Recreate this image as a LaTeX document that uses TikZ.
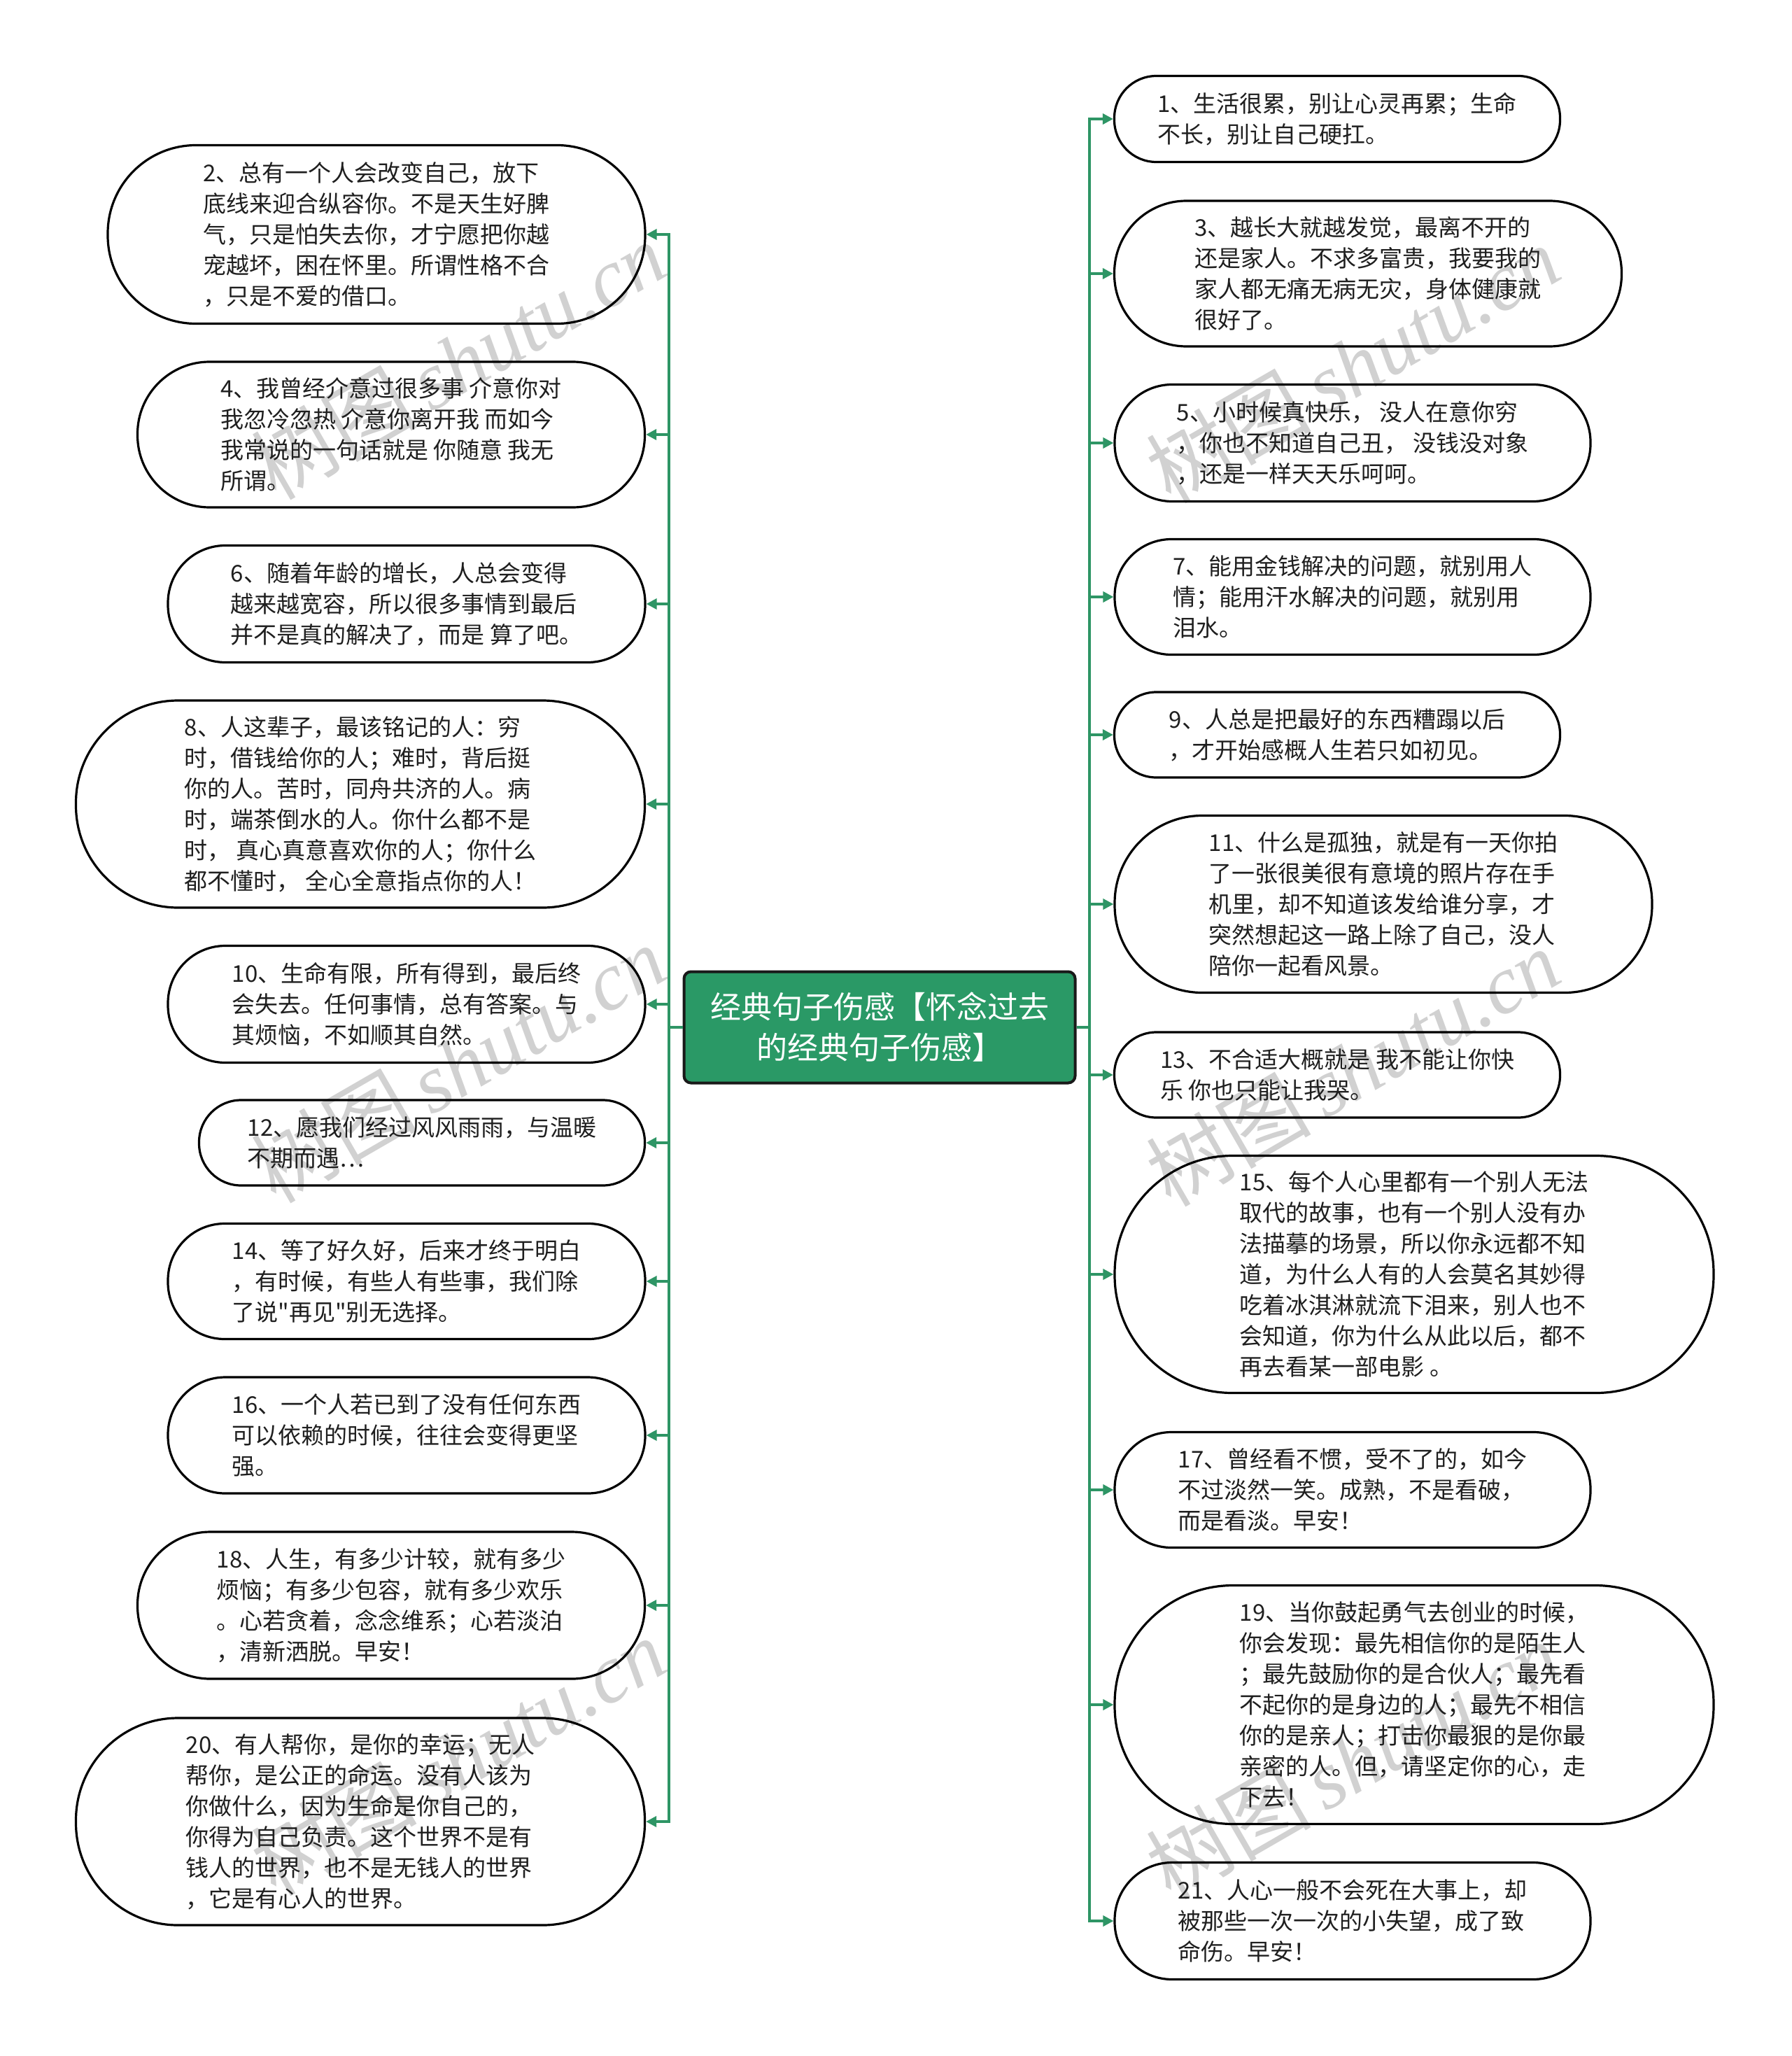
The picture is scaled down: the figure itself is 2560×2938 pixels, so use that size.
\documentclass[tikz,border=0pt]{standalone}
\usepackage{fontspec}
\usetikzlibrary{arrows.meta}
\newfontfamily\cjk{Noto Sans CJK SC}
\newfontfamily\wmserif{Liberation Serif}
\definecolor{lineg}{HTML}{2E9565}
\definecolor{rootg}{HTML}{2A9966}
\tikzset{
  bubble/.style n args={3}{draw=black, line width=3.2pt, rounded corners=#3,
    minimum width=#1, minimum height=#2, align=left, inner sep=0pt,
    font=\cjk\fontsize{33}{44}\selectfont, text=black!88},
  rootbox/.style={draw=black!90, line width=4pt, fill=rootg, rounded corners=10pt,
    minimum width=559pt, minimum height=159pt, text=white, align=center, inner sep=0pt,
    font=\cjk\fontsize{44}{58}\selectfont},
  conn/.style={draw=lineg, line width=3.6pt, -{Triangle[length=15pt,width=15pt]}},
  wm/.style={text=black!18, font=\fontsize{118}{120}\selectfont, rotate=30, inner sep=0pt}
}
\begin{document}
\begin{tikzpicture}[x=1pt,y=-1pt]
\useasboundingbox (0,0) rectangle (2560,2938);
\fill[white] (0,0) rectangle (2560,2938);
% watermarks
\node[wm] (w1) at (655,515) {{\cjk 树图}\,{\wmserif\itshape shutu.cn}};
\node[wm] (w2) at (1933,520) {{\cjk 树图}\,{\wmserif\itshape shutu.cn}};
\node[wm] (w3) at (655,1520) {{\cjk 树图}\,{\wmserif\itshape shutu.cn}};
\node[wm] (w4) at (1933,1525) {{\cjk 树图}\,{\wmserif\itshape shutu.cn}};
\node[wm] (w5) at (655,2510) {{\cjk 树图}\,{\wmserif\itshape shutu.cn}};
\node[wm] (w6) at (1933,2515) {{\cjk 树图}\,{\wmserif\itshape shutu.cn}};

\node[rootbox] (root) at (1257,1468) {经典句子伤感【怀念过去\\的经典句子伤感】};
\coordinate (lt) at (956,1468);
\coordinate (rt) at (1557,1468);

% left
\node[bubble={768pt}{255pt}{126pt}] (n2) at (538,335) {2、总有一个人会改变自己，放下\\底线来迎合纵容你。不是天生好脾\\气，只是怕失去你，才宁愿把你越\\宠越坏，困在怀里。所谓性格不合\\，只是不爱的借口。};
\node[bubble={725pt}{208pt}{103pt}] (n4) at (559,621) {4、我曾经介意过很多事 介意你对\\我忽冷忽热 介意你离开我 而如今\\我常说的一句话就是 你随意 我无\\所谓。};
\node[bubble={682pt}{167pt}{82pt}] (n6) at (581,863) {6、随着年龄的增长，人总会变得\\越来越宽容，所以很多事情到最后\\并不是真的解决了，而是 算了吧。};
\node[bubble={813pt}{296pt}{146pt}] (n8) at (515,1149) {8、人这辈子，最该铭记的人：穷\\时，借钱给你的人；难时，背后挺\\你的人。苦时，同舟共济的人。病\\时，端茶倒水的人。你什么都不是\\时， 真心真意喜欢你的人；你什么\\都不懂时， 全心全意指点你的人！};
\node[bubble={682pt}{167pt}{82pt}] (n10) at (581,1435) {10、生命有限，所有得到，最后终\\会失去。任何事情，总有答案。与\\其烦恼，不如顺其自然。};
\node[bubble={637pt}{122pt}{60pt}] (n12) at (603,1633) {12、愿我们经过风风雨雨，与温暖\\不期而遇…};
\node[bubble={682pt}{165pt}{81pt}] (n14) at (581,1831) {14、等了好久好，后来才终于明白\\，有时候，有些人有些事，我们除\\了说"再见"别无选择。};
\node[bubble={682pt}{166pt}{82pt}] (n16) at (581,2051) {16、一个人若已到了没有任何东西\\可以依赖的时候，往往会变得更坚\\强。};
\node[bubble={725pt}{210pt}{104pt}] (n18) at (559,2294) {18、人生，有多少计较，就有多少\\烦恼；有多少包容，就有多少欢乐\\。心若贪着，念念维系；心若淡泊\\，清新洒脱。早安！};
\node[bubble={813pt}{296pt}{146pt}] (n20) at (515,2603) {20、有人帮你，是你的幸运；无人\\帮你，是公正的命运。没有人该为\\你做什么，因为生命是你自己的，\\你得为自己负责。这个世界不是有\\钱人的世界，也不是无钱人的世界\\，它是有心人的世界。};

% right
\node[bubble={637pt}{123pt}{60pt}] (n1) at (1911,170) {1、生活很累，别让心灵再累；生命\\不长，别让自己硬扛。};
\node[bubble={725pt}{208pt}{103pt}] (n3) at (1955,391) {3、越长大就越发觉，最离不开的\\还是家人。不求多富贵，我要我的\\家人都无痛无病无灾，身体健康就\\很好了。};
\node[bubble={680pt}{167pt}{82pt}] (n5) at (1933,633) {5、小时候真快乐， 没人在意你穷\\，你也不知道自己丑， 没钱没对象\\，还是一样天天乐呵呵。};
\node[bubble={680pt}{165pt}{81pt}] (n7) at (1933,853) {7、能用金钱解决的问题，就别用人\\情；能用汗水解决的问题，就别用\\泪水。};
\node[bubble={637pt}{122pt}{60pt}] (n9) at (1911,1050) {9、人总是把最好的东西糟蹋以后\\，才开始感概人生若只如初见。};
\node[bubble={768pt}{253pt}{125pt}] (n11) at (1977,1292) {11、什么是孤独，就是有一天你拍\\了一张很美很有意境的照片存在手\\机里，却不知道该发给谁分享，才\\突然想起这一路上除了自己，没人\\陪你一起看风景。};
\node[bubble={637pt}{122pt}{60pt}] (n13) at (1911,1536) {13、不合适大概就是 我不能让你快\\乐 你也只能让我哭。};
\node[bubble={856pt}{339pt}{168pt}] (n15) at (2021,1821) {15、每个人心里都有一个别人无法\\取代的故事，也有一个别人没有办\\法描摹的场景，所以你永远都不知\\道，为什么人有的人会莫名其妙得\\吃着冰淇淋就流下泪来，别人也不\\会知道，你为什么从此以后，都不\\再去看某一部电影 。};
\node[bubble={680pt}{165pt}{81pt}] (n17) at (1933,2129) {17、曾经看不惯，受不了的，如今\\不过淡然一笑。成熟，不是看破，\\而是看淡。早安！};
\node[bubble={856pt}{341pt}{169pt}] (n19) at (2021,2436) {19、当你鼓起勇气去创业的时候，\\你会发现：最先相信你的是陌生人\\；最先鼓励你的是合伙人；最先看\\不起你的是身边的人；最先不相信\\你的是亲人；打击你最狠的是你最\\亲密的人。但，请坚定你的心，走\\下去！};
\node[bubble={680pt}{167pt}{82pt}] (n21) at (1933,2745) {21、人心一般不会死在大事上，却\\被那些一次一次的小失望，成了致\\命伤。早安！};

% connectors
\foreach \t in {n2,n4,n6,n8,n10,n12,n14,n16,n18,n20}
  \draw[conn] (root.west) -- (lt) |- (\t.east);
\foreach \t in {n1,n3,n5,n7,n9,n11,n13,n15,n17,n19,n21}
  \draw[conn] (root.east) -- (rt) |- (\t.west);
\end{tikzpicture}
\end{document}
